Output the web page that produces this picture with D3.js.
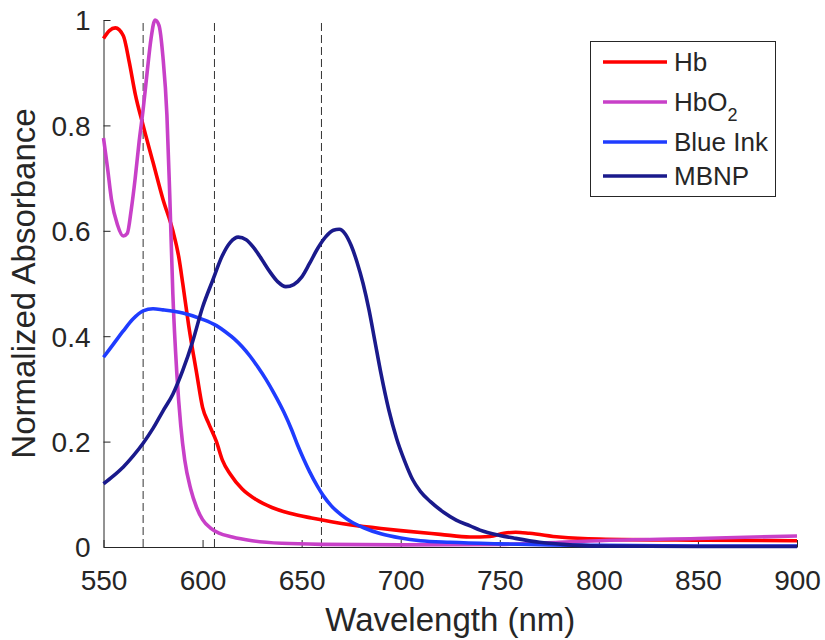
<!doctype html>
<html lang=en>
<head>
  <meta charset="utf-8">
  <title>Normalized Absorbance</title>
  <style>
body {
  margin: 0;
  background: white;
}
text {
  font-family: "Liberation Sans", Arial, sans-serif;
  fill: #262626;
}
  </style>
</head>
<body>
<div id=content></div>

<script src="https://cdn.jsdelivr.net/npm/d3@7"></script>
<script>

  // spectra (wavelength nm, normalized absorbance)
  var hbWl   = [550, 553, 556, 560, 563, 566, 570, 575, 580, 585, 588, 590, 593, 597, 600, 603, 607, 610, 614, 620, 627, 635, 644, 655, 665, 675, 690, 700, 720, 735, 745, 752, 758, 765, 780, 800, 850, 900]
  var hbVal  = [0.965, 0.98, 0.985, 0.97, 0.92, 0.86, 0.80, 0.73, 0.66, 0.60, 0.55, 0.50, 0.42, 0.33, 0.265, 0.235, 0.20, 0.165, 0.138, 0.11, 0.09, 0.075, 0.064, 0.055, 0.048, 0.042, 0.035, 0.031, 0.024, 0.019, 0.02, 0.026, 0.028, 0.026, 0.019, 0.015, 0.013, 0.012]

  var hbo2Wl  = [550, 552, 554, 557, 560, 562, 564, 566, 568, 570, 572, 574, 576, 578, 580, 582, 583.5, 585, 587, 589, 591, 594, 597, 600, 604, 608, 615, 625, 640, 660, 700, 750, 780, 800, 850, 900]
  var hbo2Val = [0.776, 0.72, 0.66, 0.612, 0.59, 0.595, 0.64, 0.70, 0.77, 0.83, 0.90, 0.965, 1.0, 0.99, 0.93, 0.82, 0.66, 0.48, 0.33, 0.23, 0.165, 0.11, 0.075, 0.052, 0.036, 0.027, 0.019, 0.012, 0.007, 0.005, 0.004, 0.005, 0.009, 0.012, 0.016, 0.021]

  var inkWl  = [550, 555, 560, 565, 570, 575, 580, 590, 600, 607, 612, 616, 620, 624, 628, 632, 636, 641, 645, 648, 651, 654, 658, 661, 665, 670, 675, 681, 690, 700, 710, 725, 750, 775, 800, 850, 900]
  var inkVal = [0.36, 0.385, 0.41, 0.433, 0.448, 0.452, 0.45, 0.444, 0.432, 0.42, 0.407, 0.395, 0.38, 0.362, 0.341, 0.318, 0.292, 0.256, 0.222, 0.193, 0.167, 0.143, 0.115, 0.097, 0.078, 0.061, 0.048, 0.037, 0.025, 0.017, 0.012, 0.009, 0.006, 0.004, 0.003, 0.002, 0.002]

  var mbnpWl  = [550, 555, 560, 565, 570, 575, 580, 585, 590, 595, 600, 605, 610, 614, 618, 622, 626, 630, 634, 638, 642, 646, 650, 654, 658, 662, 666, 669, 672, 675, 678, 681, 684, 687, 690, 694, 698, 702, 706, 710, 715, 722, 728, 735, 740, 750, 757, 770, 782, 800, 850, 900]
  var mbnpVal = [0.12, 0.135, 0.152, 0.173, 0.197, 0.225, 0.258, 0.29, 0.335, 0.39, 0.455, 0.505, 0.553, 0.578, 0.588, 0.583, 0.567, 0.545, 0.522, 0.503, 0.494, 0.498, 0.512, 0.538, 0.566, 0.588, 0.601, 0.603, 0.594, 0.572, 0.54, 0.5, 0.45, 0.39, 0.33, 0.26, 0.205, 0.163, 0.128, 0.105, 0.086, 0.065, 0.051, 0.04, 0.032, 0.022, 0.017, 0.009, 0.005, 0.002, 0.001, 0.001]

  var seriesNames  = ["Hb", "HbO2", "Blue Ink", "MBNP"]
  var seriesColors = ["#ff0000", "#c840c8", "#1f3cff", "#1a1a8c"]

  var markerWl = [570, 606, 660]   // dashed reference lines
  var xTicks = [550, 600, 650, 700, 750, 800, 850, 900]
  var yTicks = [0, 0.2, 0.4, 0.6, 0.8, 1]

  var W = 825, H = 640
  // plot box edges     t, r, b, l
  var m = [20, 28, 93, 103.5]

  var svg = d3.select("#content").append("svg")
      .attr("width", W)
      .attr("height", H)

  var x = d3.scaleLinear().domain([550, 900]).range([m[3], W - m[1]])
  var y = d3.scaleLinear().domain([0, 1]).range([H - m[2], m[0]])

  var series = [
    {name: seriesNames[0], color: seriesColors[0], d: d3.zip(hbWl, hbVal)},
    {name: seriesNames[1], color: seriesColors[1], d: d3.zip(hbo2Wl, hbo2Val)},
    {name: seriesNames[2], color: seriesColors[2], d: d3.zip(inkWl, inkVal)},
    {name: seriesNames[3], color: seriesColors[3], d: d3.zip(mbnpWl, mbnpVal)}
  ]

  // dashed markers
  svg.append("g").selectAll("line")
    .data(markerWl)
    .join("line")
      .attr("x1", d => x(d)).attr("x2", d => x(d))
      .attr("y1", y(0)).attr("y2", y(1))
      .attr("stroke", "#333")
      .attr("stroke-width", 1)
      .attr("stroke-dasharray", "8,4")

  // axes (MATLAB style, ticks pointing in, no box)
  var xaxis = d3.axisBottom(x).tickValues(xTicks).tickSizeInner(-7).tickSizeOuter(0).tickPadding(0)
  var gx = svg.append("g")
      .attr("transform", "translate(0," + y(0) + ")")
      .call(xaxis)
  gx.selectAll("text").attr("y", 43).attr("dy", null)
      .style("font-size", "28px").style("font-family", "Liberation Sans, Arial, sans-serif").attr("fill", "#262626")

  var yaxis = d3.axisLeft(y).tickValues(yTicks).tickFormat(d3.format("~g")).tickSizeInner(-7).tickSizeOuter(0).tickPadding(13)
  var gy = svg.append("g")
      .attr("transform", "translate(" + x(550) + ",0)")
      .call(yaxis)
  gy.selectAll("text").attr("dy", "0.35em")
      .style("font-size", "28px").style("font-family", "Liberation Sans, Arial, sans-serif").attr("fill", "#262626")

  svg.selectAll(".domain, .tick line").attr("stroke", "#262626")

  svg.append("text")
      .attr("x", (x(550) + x(900)) / 2)
      .attr("y", 631)
      .attr("text-anchor", "middle")
      .style("font-size", "33px")
      .text("Wavelength (nm)")

  svg.append("text")
      .attr("transform", "translate(35," + (y(0) + y(1)) / 2 + ") rotate(-90)")
      .attr("text-anchor", "middle")
      .style("font-size", "33px")
      .text("Normalized Absorbance")

  // data lines
  var line = d3.line()
      .x(d => x(d[0]))
      .y(d => y(d[1]))
      .curve(d3.curveMonotoneX)

  svg.append("g").selectAll("path")
    .data(series)
    .join("path")
      .attr("d", s => line(s.d))
      .attr("fill", "none")
      .attr("stroke", s => s.color)
      .attr("stroke-width", 3.6)
      .attr("stroke-linejoin", "round")

  // legend
  var leg = svg.append("g")
  leg.append("rect")
      .attr("x", 590.5).attr("y", 41.5)
      .attr("width", 185).attr("height", 155)
      .attr("fill", "white")
      .attr("stroke", "#262626")
      .attr("stroke-width", 1)

  var rowY = [62, 102, 142, 176]
  var rows = leg.selectAll("g.row")
    .data(series)
    .join("g")
      .attr("class", "row")
      .attr("transform", (s, i) => "translate(0," + rowY[i] + ")")
  rows.append("line")
      .attr("x1", 603).attr("x2", 667)
      .attr("stroke", s => s.color)
      .attr("stroke-width", 3.6)
  rows.append("text")
      .attr("x", 674)
      .attr("y", 9)
      .style("font-size", "26px")
      .each(function(s) {
        var t = d3.select(this)
        if (s.name == "HbO2") {
          t.text("HbO")
          t.append("tspan").attr("dy", 10).style("font-size", "18px").text("2")
        } else {
          t.text(s.name)
        }
      })

</script>
</body>
</html>
